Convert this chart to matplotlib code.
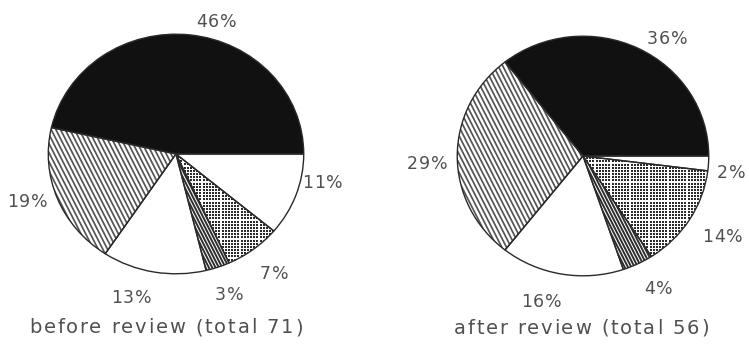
import numpy as np
import matplotlib
matplotlib.use("Agg")
import matplotlib.pyplot as plt
from matplotlib.collections import LineCollection
from matplotlib.textpath import TextToPath
from matplotlib.font_manager import FontProperties

# Share of items per category, before and after the review
before_values = [46, 19, 13, 3, 7, 11]
after_values = [36, 29, 16, 4, 14, 2]
before_labels = ["46%", "19%", "13%", "3%", "7%", "11%"]
after_labels = ["36%", "29%", "16%", "4%", "14%", "2%"]
titles = ["before review (total 71)", "after review (total 56)"]

# Fill style for each category, in drawing order (counter-clockwise from east)
styles = ["solid", "lines", "blank", "darklines", "dots", "blank"]

W, H = 749, 345
TEXT = "#505050"
EDGE = "#2a2a2a"
FONT = "DejaVu Sans"

fig = plt.figure(figsize=(W / 100, H / 100), dpi=100)
fig.patch.set_facecolor("white")
_ttp = TextToPath()


def pie_axes(cx, cy, rx, ry):
    return fig.add_axes([(cx - rx) / W, 1 - (cy + ry) / H, 2 * rx / W, 2 * ry / H])


def line_fill(ax, wedge, rx, ry, angle, spacing, lw, color):
    a = np.deg2rad(angle)
    d = np.array([np.cos(a), np.sin(a)])
    n = np.array([-np.sin(a), np.cos(a)])
    reach = max(rx, ry) * 1.5
    segs = []
    for t in np.arange(-reach, reach, spacing):
        p0 = n * t - d * reach
        p1 = n * t + d * reach
        segs.append([(p0[0] / rx, p0[1] / ry), (p1[0] / rx, p1[1] / ry)])
    lc = LineCollection(segs, colors=color, linewidths=lw, zorder=2)
    ax.add_collection(lc)
    lc.set_clip_path(wedge)


def dot_fill(ax, wedge, rx, ry, spacing, size, color):
    g = np.arange(-max(rx, ry), max(rx, ry), spacing)
    gx, gy = np.meshgrid(g, g)
    sc = ax.scatter(gx.ravel() / rx, gy.ravel() / ry, s=size, marker="s",
                    c=color, linewidths=0, zorder=2)
    sc.set_clip_path(wedge)


def draw_pie(values, cx, cy, rx, ry):
    ax = pie_axes(cx, cy, rx, ry)
    wedges, _ = ax.pie(values, startangle=0, counterclock=True, radius=1,
                       wedgeprops=dict(linewidth=0, edgecolor="none"))
    for w, st in zip(wedges, styles):
        w.set_facecolor("#111111" if st == "solid" else "white")
        w.set_zorder(1)
        if st == "lines":
            line_fill(ax, w, rx, ry, -63, 4.2, 1.25, "#555555")
        elif st == "darklines":
            line_fill(ax, w, rx, ry, -63, 3.0, 1.4, "#2e2e2e")
        elif st == "dots":
            dot_fill(ax, w, rx, ry, 3.2, 3.6, "#2a2a2a")
    ax.pie(values, startangle=0, counterclock=True, radius=1,
           wedgeprops=dict(fill=False, linewidth=1.0, edgecolor=EDGE, zorder=3))
    ax.set_aspect("auto")
    ax.set_xlim(-1.01, 1.01)
    ax.set_ylim(-1.01, 1.01)
    ax.axis("off")
    return ax


def tracked_text(x, y, s, size, track):
    """Draw s centred on (x, y) in pixels with extra letter spacing."""
    prop = FontProperties(family=FONT, size=size)

    def width(t):
        return _ttp.get_text_width_height_descent(t, prop, ismath=False)[0] * 100 / 72

    base = width("nn")
    adv = [width("n" + c + "n") - base for c in s]
    total = sum(adv) + track * (len(s) - 1)
    em = size * 100 / 72
    baseline = y + 0.36 * em
    pen = x - total / 2
    for c, a in zip(s, adv):
        if c != " ":
            fig.text((pen + a / 2) / W, 1 - baseline / H, c, ha="center",
                     va="baseline", fontsize=size, color=TEXT, family=FONT)
        pen += a + track


draw_pie(before_values, 176, 154, 129, 121)
draw_pie(after_values, 583, 156, 127, 121)

# Percentage labels placed around each pie (pixel positions)
before_pos = [(216, 21), (27, 201), (131, 297), (229, 294), (274, 273), (322, 182)]
after_pos = [(667, 38), (427, 163), (541, 301), (658, 288), (722, 236), (731, 172)]
for s, (x, y) in zip(before_labels, before_pos):
    tracked_text(x, y, s, 12.5, 1.0)
for s, (x, y) in zip(after_labels, after_pos):
    tracked_text(x, y, s, 12.5, 1.0)

tracked_text(166, 326, titles[0], 14, 1.9)
tracked_text(581, 327, titles[1], 14, 1.9)

fig.savefig("out.png", dpi=100, facecolor="white")
